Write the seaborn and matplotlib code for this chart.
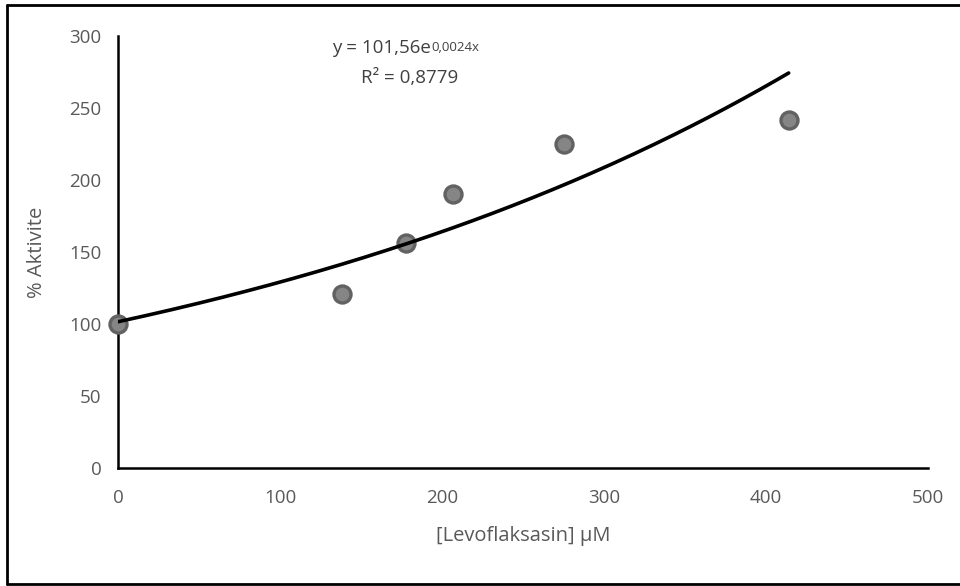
import numpy as np
import pandas as pd
import matplotlib
matplotlib.use("Agg")
import matplotlib.pyplot as plt
import seaborn as sns
from matplotlib.lines import Line2D

# Data
concentration = [0, 138, 178, 207, 275, 414]
activity = [100, 121, 156, 190, 225, 242]
fit_a = 101.56
fit_b = 0.0024
x_ticks = [0, 100, 200, 300, 400, 500]
y_ticks = [0, 50, 100, 150, 200, 250, 300]
equation_base = "y = 101,56e"
equation_sup = "0,0024x"
r2_text = "R² = 0,8779"
x_label = "[Levoflaksasin] μM"
y_label = "% Aktivite"

sns.set_theme(style="white")
plt.rcParams['font.family'] = ['Open Sans', 'DejaVu Sans']

fig = plt.figure(figsize=(9.6, 5.86), dpi=100)
ax = fig.add_axes([118/960, 1 - 468/586, (928-118)/960, (468-36)/586])

df = pd.DataFrame({"x": concentration, "y": activity})
xf = np.linspace(min(concentration), max(concentration), 200)
fit_df = pd.DataFrame({"x": xf, "y": fit_a * np.exp(fit_b * xf)})

sns.scatterplot(data=df, x="x", y="y", ax=ax, s=150, color="#858585",
                edgecolor="#626262", linewidth=2.4, zorder=3, clip_on=False)
sns.lineplot(data=fit_df, x="x", y="y", ax=ax, color="black", linewidth=2.6, zorder=4)

ax.set_xlim(0, 500)
ax.set_ylim(0, 300)
ax.set_xticks(x_ticks)
ax.set_yticks(y_ticks)
for s in ["top", "right"]:
    ax.spines[s].set_visible(False)
for s in ["left", "bottom"]:
    ax.spines[s].set_color("black")
    ax.spines[s].set_linewidth(1.8)
ax.tick_params(axis="both", direction="out", length=6, width=1.8, color="black",
               labelsize=13.5, labelcolor="#595959", pad=6)
ax.tick_params(axis="x", pad=9)
ax.set_xlabel(x_label, fontsize=14.5, color="#595959", labelpad=14)
ax.set_ylabel(y_label, fontsize=14.5, color="#595959", labelpad=16)

# trendline equation
base = ax.text(332/960, 1 - 48/586, equation_base, transform=fig.transFigure,
               ha="left", va="center", fontsize=13.5, color="#404040")
fig.canvas.draw()
bb = base.get_window_extent()
ax.text(bb.x1 + 1, bb.y1 - 2, equation_sup, transform=None, ha="left", va="top",
        fontsize=9.5, color="#404040")
ax.text(410/960, 1 - 78/586, r2_text, transform=fig.transFigure, ha="center", va="center",
        fontsize=13.5, color="#404040")

# outer frame (right edge cut off in reference)
fig.add_artist(Line2D([7/960, 7/960], [1-5/586, 1-584/586], color="black", lw=2, transform=fig.transFigure))
fig.add_artist(Line2D([7/960, 1], [1-5/586, 1-5/586], color="black", lw=2, transform=fig.transFigure))
fig.add_artist(Line2D([7/960, 1], [1-584/586, 1-584/586], color="black", lw=2, transform=fig.transFigure))

fig.savefig("out.png", dpi=100)
